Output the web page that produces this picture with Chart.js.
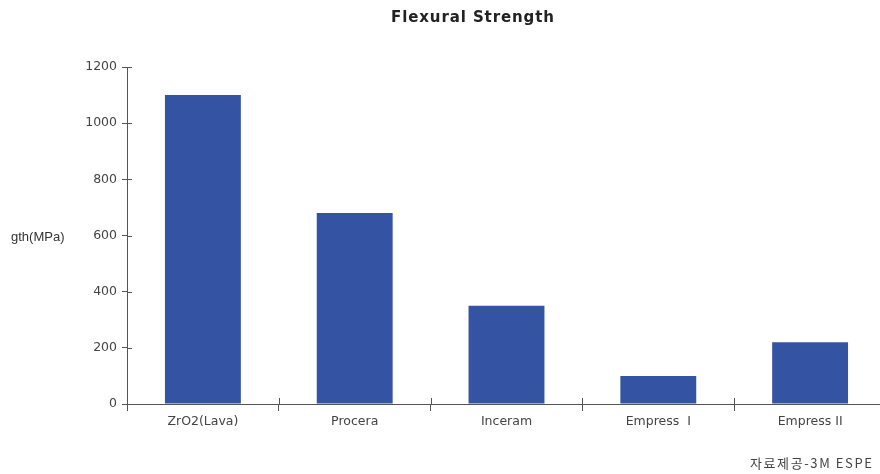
<!DOCTYPE html>
<html>
<head>
<meta charset="utf-8">
<script src="https://cdn.jsdelivr.net/npm/chart.js@4/dist/chart.umd.min.js"></script>
<style>
  html, body { margin: 0; padding: 0; background: #fff; overflow: hidden; }
  #wrap { position: relative; width: 890px; height: 474px; }
  #title {
    position: absolute; left: 391px; top: 8px;
    font: bold 15px "DejaVu Sans", sans-serif; letter-spacing: 0.9px; color: #222;
  }
  #ytitle {
    position: absolute; left: 11px; top: 229px;
    font: 13px "Liberation Sans", Arial, sans-serif; color: #333;
  }
  #source {
    position: absolute; left: 750px; top: 453px;
    font: 13px "Noto Sans CJK KR", sans-serif; letter-spacing: 1.6px; color: #444;
  }
</style>
</head>
<body>
<div id="wrap">
  <canvas id="chart" width="890" height="474"></canvas>
  <div id="title">Flexural Strength</div>
  <div id="ytitle">gth(MPa)</div>
  <div id="source">자료제공-3M ESPE</div>
</div>
<script>
const categories = ['ZrO2(Lava)', 'Procera', 'Inceram', 'Empress  I', 'Empress II']
const strength   = [1100, 680, 350, 100, 220]
const yTicks     = [0, 200, 400, 600, 800, 1000, 1200]

const AXIS = '#555'

// ticks in the reference cross the axis line, so draw the inner half too
const crossTicks = {
  id: 'crossTicks',
  afterDraw(chart) {
    const { ctx, chartArea, scales } = chart
    ctx.save()
    ctx.strokeStyle = AXIS
    ctx.lineWidth = 1
    ctx.beginPath()
    yTicks.forEach(v => {
      const y = Math.round(scales.y.getPixelForValue(v)) + 0.5
      ctx.moveTo(chartArea.left, y)
      ctx.lineTo(chartArea.left + 5, y)
    })
    for (let i = 0; i <= categories.length; i++) {
      const x = Math.round(scales.x.getPixelForValue(i - 0.5)) + 0.5
      ctx.moveTo(x, chartArea.bottom)
      ctx.lineTo(x, chartArea.bottom - 6)
    }
    ctx.stroke()
    ctx.restore()
  }
}

new Chart(document.getElementById('chart'), {
  type: 'bar',
  data: {
    labels: categories,
    datasets: [{
      data: strength,
      backgroundColor: '#3553a3',
      borderWidth: 0,
      barPercentage: 0.5,
      categoryPercentage: 1
    }]
  },
  options: {
    responsive: false,
    animation: false,
    layout: { padding: { top: 67, right: 4, left: 0, bottom: 0 } },
    plugins: { legend: { display: false }, tooltip: { enabled: false }, title: { display: false } },
    scales: {
      x: {
        afterFit: s => { s.height = 70 },
        grid: { offset: true, drawOnChartArea: false, drawTicks: true, tickLength: 7, color: AXIS },
        border: { display: true, color: AXIS, width: 1 },
        ticks: { color: '#444', padding: 3, font: { size: 12.5, family: 'DejaVu Sans' }, maxRotation: 0 }
      },
      y: {
        min: 0, max: 1200,
        afterFit: s => { s.width = 127 },
        afterBuildTicks: s => { s.ticks = yTicks.map(v => ({ value: v })) },
        grid: { drawOnChartArea: false, drawTicks: true, tickLength: 5, color: AXIS },
        border: { display: true, color: AXIS, width: 1 },
        ticks: {
          color: '#444', padding: 5, font: { size: 12.5, family: 'DejaVu Sans' },
          callback: v => String(v)
        }
      }
    }
  },
  plugins: [crossTicks]
})
</script>
</body>
</html>
